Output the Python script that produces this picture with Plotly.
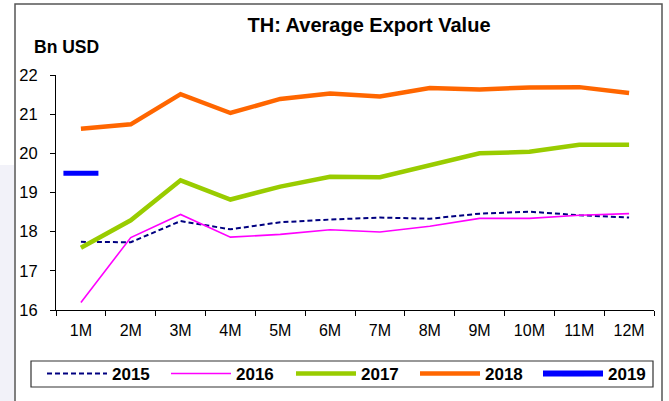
import plotly.graph_objects as go

months = ["1M", "2M", "3M", "4M", "5M", "6M", "7M", "8M", "9M", "10M", "11M", "12M"]
v2015 = [17.74, 17.73, 18.27, 18.06, 18.24, 18.31, 18.36, 18.33, 18.46, 18.51, 18.42, 18.36]
v2016 = [16.19, 17.85, 18.44, 17.86, 17.93, 18.05, 17.99, 18.14, 18.34, 18.34, 18.42, 18.46]
v2017 = [17.59, 18.29, 19.31, 18.82, 19.15, 19.40, 19.39, 19.70, 20.00, 20.04, 20.22, 20.22]
v2018 = [20.63, 20.74, 21.51, 21.03, 21.39, 21.53, 21.45, 21.67, 21.63, 21.68, 21.69, 21.54]
v2019 = [19.49]
y_ticks = [16, 17, 18, 19, 20, 21, 22]

W, H = 669, 401
L, R, T, B = 56, 15, 75, 91
pw = W - L - R
ph = H - T - B


def px_x(p):
    return (p - L) / pw


def px_y(p):
    return (H - B - p) / ph


FONT = "Liberation Sans, Arial, sans-serif"

fig = go.Figure()
fig.add_trace(go.Scatter(x=months, y=v2015, name="2015", mode="lines", legend="legend",
                         line=dict(color="#000080", width=2, dash="5px,3px")))
fig.add_trace(go.Scatter(x=months, y=v2016, name="2016", mode="lines", legend="legend2",
                         line=dict(color="#FF00FF", width=1.6)))
fig.add_trace(go.Scatter(x=months, y=v2017, name="2017", mode="lines", legend="legend3",
                         line=dict(color="#99CC00", width=4.5)))
fig.add_trace(go.Scatter(x=months, y=v2018, name="2018", mode="lines", legend="legend4",
                         line=dict(color="#FF6600", width=4.5)))
fig.add_trace(go.Scatter(x=months[:len(v2019)], y=v2019, name="2019", mode="lines+markers",
                         legend="legend5",
                         line=dict(color="#0000FF", width=6),
                         marker=dict(symbol="line-ew", size=25, color="#0000FF",
                                     line=dict(color="#0000FF", width=5))))

shapes = [
    dict(type="rect", xref="paper", yref="paper", x0=px_x(0), x1=px_x(14), y0=px_y(401), y1=px_y(165),
         line=dict(width=0), fillcolor="#f2f2f9", layer="below"),
    dict(type="rect", xref="paper", yref="paper", x0=px_x(15), x1=px_x(662), y0=px_y(405), y1=px_y(4),
         line=dict(color="#555555", width=1.5), fillcolor="rgba(0,0,0,0)"),
    dict(type="rect", xref="paper", yref="paper", x0=px_x(31), x1=px_x(653), y0=px_y(387), y1=px_y(361),
         line=dict(color="#333333", width=1.2), fillcolor="rgba(0,0,0,0)"),
]

text_starts = [113, 237, 362, 486, 609]
SYM_OFF = 71  # distance from legend left edge to text start with itemwidth=60


def leg(px):
    return dict(orientation="h", x=px_x(px - SYM_OFF), xanchor="left", y=px_y(356), yanchor="top",
                font=dict(size=17, family=FONT, weight="bold"), itemwidth=60,
                bgcolor="rgba(0,0,0,0)", borderwidth=0, itemclick=False)


legends = {("legend" if i == 0 else f"legend{i + 1}"): leg(p) for i, p in enumerate(text_starts)}

fig.update_layout(
    width=W, height=H, autosize=False,
    margin=dict(l=L, r=R, t=T, b=B, autoexpand=False),
    paper_bgcolor="white", plot_bgcolor="white",
    font=dict(family=FONT, color="black"),
    title=dict(text="<b>TH: Average Export Value</b>", x=369 / W, xanchor="center",
               y=1 - 25 / H, yanchor="middle", font=dict(size=20, family=FONT)),
    showlegend=True,
    shapes=shapes,
    annotations=[dict(text="<b>Bn USD</b>", xref="paper", yref="paper", x=px_x(32), y=px_y(47),
                      xanchor="left", yanchor="middle", showarrow=False,
                      font=dict(size=17.5, family=FONT))],
    **legends,
)
fig.update_xaxes(type="category", categoryorder="array", categoryarray=months,
                 showline=True, linecolor="black", linewidth=1,
                 ticks="outside", tickson="boundaries", ticklen=5, tickcolor="black",
                 showgrid=False, zeroline=False,
                 tickfont=dict(size=16, family=FONT), ticklabelstandoff=6,
                 range=[-0.5, len(months) - 0.5])
fig.update_yaxes(range=[16, 22], tickvals=y_ticks,
                 showline=True, linecolor="black", linewidth=1,
                 ticks="outside", ticklen=5, tickcolor="black",
                 showgrid=False, zeroline=False,
                 tickfont=dict(size=16.5, family=FONT), ticklabelstandoff=9)

fig.write_html("out.html", config={"displayModeBar": False},
               post_script="document.body.style.margin='0';document.body.style.overflow='hidden';")
